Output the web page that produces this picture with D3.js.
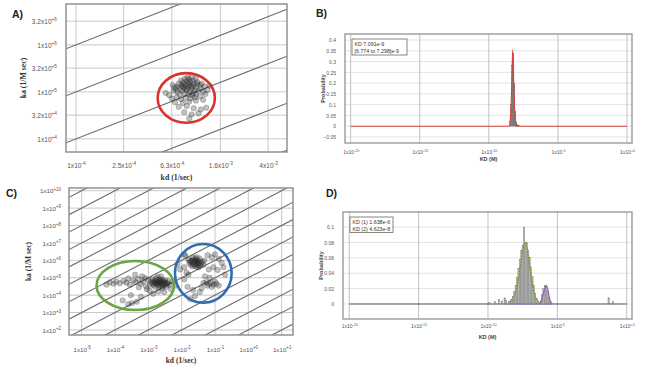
<!DOCTYPE html>
<html><head><meta charset="utf-8">
<script src="https://cdn.jsdelivr.net/npm/d3@7"></script>
<style>body{margin:0;background:#fff}svg{display:block}</style>
</head><body><svg id="c" width="650" height="369"></svg>
<script>
// ---------- Panel A data ----------
const aKdTicks=[1e-4,2.5e-4,6.3e-4,1.6e-3,4e-3];
const aKdMant=["1","2.5","6.3","1.6","4"];
const aKdExp=["-4","-4","-4","-3","-3"];
const aKaTicks=[3.2e6,1e6,3.2e5,1e5,3.2e4,1e4];
const aKaMant=["3.2","1","3.2","1","3.2","1"];
const aKaExp=["+6","+6","+5","+5","+4","+4"];
const aIsoKD=[1e-6,1e-7,1e-8,1e-9,1e-10,1e-11];
const aEllipseBox=[4.8e-4,1.44e-3,2.2e4,2.5e5];
const aPoints=[[7.2e-4,1.5e5],[7.8e-4,1.6e5],[8.4e-4,1.7e5],[9.0e-4,1.6e5],[9.6e-4,1.5e5],[1.02e-3,1.45e5],[1.08e-3,1.4e5],
[7.0e-4,1.3e5],[7.6e-4,1.35e5],[8.2e-4,1.4e5],[8.8e-4,1.42e5],[9.4e-4,1.3e5],[1.0e-3,1.25e5],[1.1e-3,1.2e5],
[6.8e-4,1.15e5],[7.4e-4,1.2e5],[8.0e-4,1.22e5],[8.6e-4,1.25e5],[9.2e-4,1.18e5],[9.8e-4,1.1e5],[1.05e-3,1.05e5],
[7.0e-4,1.0e5],[7.7e-4,1.05e5],[8.3e-4,1.08e5],[8.9e-4,1.0e5],[9.5e-4,9.5e4],[1.15e-3,1.0e5],
[7.3e-4,9.0e4],[8.0e-4,9.2e4],[8.7e-4,8.8e4],[9.3e-4,8.5e4],[1.0e-3,8.8e4],
[6.6e-4,1.25e5],[7.5e-4,1.75e5],[8.1e-4,1.9e5],[8.8e-4,1.85e5],[9.5e-4,1.75e5],[1.03e-3,1.6e5],[1.12e-3,1.5e5],[1.18e-3,1.3e5],
[6.4e-4,1.4e5],[6.5e-4,1.05e5],[8.5e-4,2.0e5],[9.2e-4,2.05e5],[1.0e-3,1.9e5],[7.9e-4,1.48e5],[8.6e-4,1.55e5],[9.1e-4,1.33e5],[8.4e-4,1.15e5],[7.8e-4,1.28e5],
[6.0e-4,8.5e4],[6.3e-4,7.2e4],[6.9e-4,7.8e4],[7.5e-4,7.0e4],[8.2e-4,7.5e4],[9.0e-4,7.2e4],[9.8e-4,7.6e4],[1.08e-3,8.0e4],[1.2e-3,9.0e4],[1.25e-3,1.1e5],
[6.7e-4,6.0e4],[7.8e-4,5.8e4],[8.8e-4,6.2e4],[1.0e-3,6.5e4],[1.15e-3,6.8e4],
[7.2e-4,4.8e4],[8.4e-4,5.0e4],[9.6e-4,4.5e4],[1.1e-3,4.2e4],[1.22e-3,4.6e4],
[8.0e-4,3.7e4],[9.2e-4,3.3e4],[8.8e-4,2.7e4],[1.05e-3,3.5e4],[5.6e-4,9.5e4],[1.3e-3,1.35e5]];

// ---------- Panel B data ----------
const bKdTicks=[1e-20,1e-15,1e-10,1e-5,1];
const bKdMant=["1","1","1","1","1"];
const bKdExp=["-20","-15","-10","-5","+0"];
const bProbTicks=[0.4,0.35,0.3,0.25,0.2,0.15,0.1,0.05,0,-0.05];
const bLegend=["KD 7.091e-9","[6.774 to 7.298]e-9"];
const bCurveKd=[1e-20,3.0e-9,3.6e-9,4.2e-9,4.8e-9,5.3e-9,5.8e-9,6.5e-9,7.5e-9,9e-9,1.1e-8,1];
const bCurveP=[0,0,0.03,0.12,0.26,0.355,0.3,0.17,0.06,0.01,0,0];
const bHistKd=[3.5e-9,4.1e-9,4.9e-9,5.8e-9,6.9e-9,8.2e-9,9.7e-9,1.15e-8,1.4e-8];
const bHistP=[0.02,0.1,0.28,0.34,0.2,0.07,0.02,0.008,0.004];

// ---------- Panel C data ----------
const cKdTicks=[1e-5,1e-4,1e-3,1e-2,1e-1,1,10];
const cKdExp=["-5","-4","-3","-2","-1","+0","+1"];
const cKaTicks=[1e10,1e9,1e8,1e7,1e6,1e5,1e4,1e3,1e2];
const cKaExp=["+10","+9","+8","+7","+6","+5","+4","+3","+2"];
const cIsoKD=[1e-16,1e-15,1e-14,1e-13,1e-12,1e-11,1e-10,1e-9,1e-8,1e-7,1e-6,1e-5,1e-4,1e-3,1e-2,1e-1,1];
const cGreenBox=[2.8e-5,5.9e-3,1.4e3,9.1e5];
const cBlueBox=[6.3e-3,0.316,3.7e3,8.7e6];
const cGreenPoints=[[1.2e-3,6e4],[1.5e-3,6.5e4],[1.8e-3,7e4],[2.1e-3,6.2e4],[2.5e-3,5.5e4],[2.9e-3,6e4],[3.3e-3,5e4],
[1.3e-3,4.8e4],[1.6e-3,5.2e4],[1.9e-3,5.5e4],[2.2e-3,4.8e4],[2.6e-3,4.2e4],[3.0e-3,4.5e4],[3.6e-3,4e4],
[1.1e-3,4e4],[1.4e-3,3.8e4],[1.7e-3,4.2e4],[2.0e-3,3.8e4],[2.4e-3,3.4e4],[2.8e-3,3.2e4],[3.4e-3,3.0e4],
[1.0e-3,7.5e4],[1.3e-3,8e4],[1.7e-3,9e4],[2.2e-3,8.5e4],[2.7e-3,7.5e4],[3.2e-3,7e4],[4.0e-3,6.5e4],
[1.6e-3,3e4],[2.1e-3,2.8e4],[2.6e-3,2.5e4],[1.9e-3,1.1e5],[2.4e-3,1.2e5],[3.8e-3,5e4],[4.3e-3,4e4],
[1.5e-3,5.8e4],[1.8e-3,4.6e4],[2.3e-3,6.8e4],[2.0e-3,5.2e4],[2.7e-3,5.6e4],
[5.5e-5,4e4],[7e-5,5.5e4],[9e-5,4.5e4],[1.1e-4,6e4],[1.4e-4,4.8e4],[1.8e-4,6.5e4],[2.2e-4,5.2e4],[2.8e-4,4e4],[3.5e-4,7e4],[4.2e-4,5.5e4],[5e-4,8.5e4],[6e-4,4.5e4],[7e-4,6e4],[8e-4,9.5e4],[6.5e-4,1.2e5],[4e-4,1.5e5],[2.5e-4,9e4],[8.5e-4,3.2e4],
[1.7e-4,5e3],[2.5e-4,3e3],[3.2e-4,3.5e3],[4.5e-4,4.2e3],[3e-4,1e4],[6e-4,8e3],[5.2e-4,2.8e4],[1.1e-3,1.8e4],[1.4e-3,1.2e4],[9e-4,2.2e4],[2e-3,1.6e4],[3e-3,1.5e4],[4.8e-3,2.2e4],
[5.5e-3,6e4],[6.5e-3,3.5e4]];
const cBluePoints=[[1.8e-2,9e5],[2.2e-2,1.1e6],[2.6e-2,1.2e6],[3.0e-2,1.0e6],[3.5e-2,9e5],[4.2e-2,8e5],
[1.7e-2,7e5],[2.0e-2,7.5e5],[2.4e-2,8.5e5],[2.8e-2,7.8e5],[3.2e-2,7e5],[3.8e-2,6.5e5],
[1.9e-2,5.5e5],[2.3e-2,6e5],[2.7e-2,6.2e5],[3.1e-2,5.5e5],[3.6e-2,5e5],[4.5e-2,5.5e5],
[2.1e-2,4.5e5],[2.5e-2,4.8e5],[2.9e-2,4.2e5],[3.3e-2,4e5],[2.2e-2,1.4e6],[2.8e-2,1.5e6],[3.4e-2,1.3e6],[1.6e-2,1.1e6],[4.8e-2,1e6],[2.6e-2,9.5e5],[2.0e-2,9.5e5],[3.0e-2,8.2e5],
[1.2e-2,2.2e6],[1.3e-2,1.8e6],[7.5e-3,6e5],[9e-3,3e5],[1.2e-2,4e5],[1.4e-2,2e5],[6e-2,2e6],[8e-2,1.5e6],[1.0e-1,2.2e6],[1.3e-1,1.2e6],[1.6e-1,7e5],[9e-2,4e5],[6.5e-2,3e5],[1.2e-1,2.8e5],
[4.5e-2,5e4],[5.5e-2,5.5e4],[6.5e-2,4.5e4],[7.5e-2,5e4],[9e-2,4e4],[1.1e-1,4.5e4],[1.3e-1,3.5e4],[8e-2,3e4],[6e-2,3.5e4],[1e-1,6e4],
[1.8e-2,6e3],[2.5e-2,9e3],[3.5e-2,1.5e4],[4e-2,2.5e4],[2.2e-2,2e4],[1.5e-2,3e4],[1.2e-2,8e4],[1.6e-2,1.5e5],[5e-2,1.2e5],[7e-2,1e5],[2e-1,1.5e5],[1.8e-1,4e5]];

// ---------- Panel D data ----------
const dKdTicks=[1e-20,1e-15,1e-10,1e-5,1];
const dKdMant=["1","1","1","1","1"];
const dKdExp=["-20","-15","-10","-5","+0"];
const dProbTicks=[0.1,0.08,0.06,0.04,0.02,0];
const dLegend=["KD (1) 1.638e-6","KD (2) 4.623e-8"];
const dHistKd=[1.26e-10,3.2e-10,6.3e-10,1e-9,1.6e-9,2e-9,3.2e-9,4e-9,5e-9,6.3e-9,7.9e-9,1e-8,1.26e-8,1.6e-8,2e-8,2.5e-8,3.2e-8,4e-8,5e-8,6.3e-8,7.9e-8,1e-7,1.26e-7,1.6e-7,2e-7,2.5e-7,3.2e-7,4e-7,6.3e-7,7.9e-7,1e-6,1.26e-6,1.6e-6,2e-6,2.5e-6,3.2e-6,0.05,0.1];
const dHistP=[0.002,0.003,0.006,0.004,0.008,0.005,0.003,0.004,0.006,0.01,0.016,0.024,0.034,0.046,0.058,0.07,0.076,0.1,0.079,0.08,0.07,0.06,0.048,0.036,0.024,0.014,0.007,0.003,0.004,0.012,0.02,0.024,0.023,0.016,0.008,0.003,0.008,0.003];
const dFit2Kd=[2.5e-9,4e-9,6.3e-9,1e-8,1.6e-8,2.5e-8,3.5e-8,4.6e-8,6e-8,8e-8,1.2e-7,1.8e-7,2.8e-7,4.5e-7,7e-7];
const dFit2P=[0,0.002,0.006,0.016,0.034,0.056,0.072,0.08,0.076,0.062,0.04,0.02,0.008,0.002,0];
const dFit1Kd=[5e-7,7e-7,9e-7,1.15e-6,1.4e-6,1.64e-6,2e-6,2.5e-6,3.2e-6,4.2e-6];
const dFit1P=[0,0.004,0.011,0.018,0.023,0.024,0.02,0.011,0.003,0];

// ---------- drawing ----------
const svg=d3.select("#c");
const SANS="'Liberation Sans', Arial, sans-serif";
const SERIF="'Liberation Serif', 'Times New Roman', serif";

function sup(sel,mant,exp){
  sel.text(null);
  sel.append("tspan").text(mant+"x10");
  sel.append("tspan").attr("dy","-0.6em").attr("font-size","0.72em").text(exp);
}

function scatter(o){
  const g=svg.append("g");
  const x=d3.scaleLog().domain(o.xDom).range([o.L,o.R]);
  const y=d3.scaleLog().domain(o.yDom).range([o.B,o.T]);
  svg.append("clipPath").attr("id",o.id).append("rect")
    .attr("x",o.L).attr("y",o.T).attr("width",o.R-o.L).attr("height",o.B-o.T);
  g.append("g").selectAll("line").data(o.xTicks).join("line")
    .attr("x1",d=>x(d)).attr("x2",d=>x(d)).attr("y1",o.T).attr("y2",o.B)
    .attr("stroke","#c8c8c8").attr("stroke-width",1);
  g.append("g").selectAll("line").data(o.yTicks).join("line")
    .attr("y1",d=>y(d)).attr("y2",d=>y(d)).attr("x1",o.L).attr("x2",o.R)
    .attr("stroke","#c8c8c8").attr("stroke-width",1);
  const line=d3.line().x(d=>x(d[0])).y(d=>y(d[1]));
  g.append("g").attr("clip-path",`url(#${o.id})`).selectAll("path").data(o.iso).join("path")
    .attr("d",K=>line([[o.xDom[0],o.xDom[0]/K],[o.xDom[1],o.xDom[1]/K]]))
    .attr("stroke","#6b6b6b").attr("stroke-width",1.1).attr("fill","none");
  o.points.forEach(p=>{
    g.append("g").selectAll("circle").data(p).join("circle")
      .attr("cx",d=>x(d[0])).attr("cy",d=>y(d[1])).attr("r",2.7)
      .attr("fill","#222").attr("fill-opacity",0.28)
      .attr("stroke","#333").attr("stroke-opacity",0.5).attr("stroke-width",0.5);
  });
  o.ellipses.forEach(e=>{
    const x0=x(e.box[0]),x1=x(e.box[1]),y0=y(e.box[2]),y1=y(e.box[3]);
    g.append("ellipse").attr("cx",(x0+x1)/2).attr("cy",(y0+y1)/2)
      .attr("rx",Math.abs(x1-x0)/2).attr("ry",Math.abs(y1-y0)/2)
      .attr("fill","none").attr("stroke",e.color).attr("stroke-width",2.6);
  });
  g.append("rect").attr("x",o.L).attr("y",o.T).attr("width",o.R-o.L).attr("height",o.B-o.T)
    .attr("fill","none").attr("stroke","#8a8a8a").attr("stroke-width",1.4);
  const ax=g.append("g").attr("transform",`translate(0,${o.B})`)
    .call(d3.axisBottom(x).tickValues(o.xTicks).tickSize(0).tickFormat(()=>""));
  ax.select(".domain").remove();
  ax.selectAll(".tick text").attr("y",o.xLabDy).attr("dy",0)
    .attr("font-family",SANS).attr("font-size",o.fs).attr("fill","#555")
    .each(function(d,i){sup(d3.select(this),o.xMant[i],o.xExp[i]);});
  const ay=g.append("g").attr("transform",`translate(${o.L},0)`)
    .call(d3.axisLeft(y).tickValues(o.yTicks).tickSize(0).tickFormat(()=>""));
  ay.select(".domain").remove();
  ay.selectAll(".tick text").attr("x",-o.yLabDx).attr("dy","0.35em")
    .attr("font-family",SANS).attr("font-size",o.fs).attr("fill","#555")
    .each(function(d,i){sup(d3.select(this),o.yMant[i],o.yExp[i]);});
  g.append("text").attr("x",(o.L+o.R)/2).attr("y",o.xTitleY).attr("text-anchor","middle")
    .attr("font-family",SERIF).attr("font-weight","bold").attr("font-size",o.tfs).attr("fill","#333")
    .text("kd (1/sec)");
  g.append("text").attr("transform",`translate(${o.yTitleX},${(o.T+o.B)/2}) rotate(-90)`)
    .attr("text-anchor","middle")
    .attr("font-family",SERIF).attr("font-weight","bold").attr("font-size",o.tfs).attr("fill","#333")
    .text("ka (1/M sec)");
  g.append("text").attr("x",o.labX).attr("y",o.labY).attr("font-family",SANS)
    .attr("font-weight","bold").attr("font-size",10.5).attr("fill","#222").text(o.label);
}

function prob(o){
  const g=svg.append("g");
  const x=d3.scaleLog().domain(o.xDom).range([o.L,o.R]);
  const y=d3.scaleLinear().domain(o.yDom).range([o.B,o.T]);
  g.append("g").selectAll("line").data(o.yTicks).join("line")
    .attr("y1",d=>y(d)).attr("y2",d=>y(d)).attr("x1",o.L).attr("x2",o.R)
    .attr("stroke","#dcdcdc").attr("stroke-width",0.8);
  g.append("g").selectAll("line").data(o.xTicks).join("line")
    .attr("x1",d=>x(d)).attr("x2",d=>x(d)).attr("y1",o.T).attr("y2",o.B)
    .attr("stroke","#b9b9c4").attr("stroke-width",0.9);
  o.draw(g,x,y);
  g.append("rect").attr("x",o.L).attr("y",o.T).attr("width",o.R-o.L).attr("height",o.B-o.T)
    .attr("fill","none").attr("stroke","#9a9a9a").attr("stroke-width",1.4);
  const ax=g.append("g").attr("transform",`translate(0,${o.B})`)
    .call(d3.axisBottom(x).tickValues(o.xTicks).tickSize(0).tickFormat(()=>""));
  ax.select(".domain").remove();
  ax.selectAll(".tick text").attr("y",o.xLabDy).attr("dy",0)
    .attr("font-family",SANS).attr("font-size",5).attr("fill","#555")
    .each(function(d,i){sup(d3.select(this),o.xMant[i],o.xExp[i]);});
  const ay=g.append("g").attr("transform",`translate(${o.L},0)`)
    .call(d3.axisLeft(y).tickValues(o.yTicks).tickSize(0).tickFormat(d3.format("")));
  ay.select(".domain").remove();
  ay.selectAll(".tick text").attr("x",-9).attr("dy","0.35em")
    .attr("font-family",SANS).attr("font-size",5).attr("fill","#555");
  g.append("text").attr("x",(o.L+o.R)/2).attr("y",o.xTitleY).attr("text-anchor","middle")
    .attr("font-family",SANS).attr("font-weight","bold").attr("font-size",5.5).attr("fill","#444")
    .text("KD (M)");
  g.append("text").attr("transform",`translate(${o.L-20},${(o.T+o.B)/2}) rotate(-90)`)
    .attr("text-anchor","middle").attr("font-family",SANS).attr("font-weight","bold")
    .attr("font-size",5.5).attr("fill","#444").text("Probability");
  const lg=g.append("g");
  lg.append("rect").attr("x",o.leg[0]).attr("y",o.leg[1]).attr("width",o.leg[2]).attr("height",o.leg[3])
    .attr("fill","#fff").attr("stroke","#666").attr("stroke-width",0.8);
  lg.selectAll("text").data(o.legend).join("text")
    .attr("x",o.leg[0]+2.5).attr("y",(d,i)=>o.leg[1]+6.5+i*7)
    .attr("font-family",SANS).attr("font-size",5.3).attr("fill","#333").text(d=>d);
  g.append("text").attr("x",o.labX).attr("y",o.labY).attr("font-family",SANS)
    .attr("font-weight","bold").attr("font-size",10.5).attr("fill","#222").text(o.label);
}

// Panel A
scatter({id:"clipA",L:66,R:287,T:4,B:152,xDom:[8.26e-5,5.75e-3],yDom:[5.25e3,7.41e6],
  xTicks:aKdTicks,xMant:aKdMant,xExp:aKdExp,yTicks:aKaTicks,yMant:aKaMant,yExp:aKaExp,
  iso:aIsoKD,points:[aPoints],ellipses:[{box:aEllipseBox,color:"#d8342b"}],
  fs:6.6,xLabDy:16,yLabDx:9,xTitleY:180,yTitleX:26,tfs:7.8,label:"A)",labX:12,labY:18});

// Panel C
scatter({id:"clipC",L:69,R:293,T:188,B:335,xDom:[4.17e-6,21.9],yDom:[51.3,1.43e10],
  xTicks:cKdTicks,xMant:cKdTicks.map(()=>"1"),xExp:cKdExp,yTicks:cKaTicks,yMant:cKaTicks.map(()=>"1"),yExp:cKaExp,
  iso:cIsoKD,points:[cGreenPoints,cBluePoints],
  ellipses:[{box:cGreenBox,color:"#6aa646"},{box:cBlueBox,color:"#2e6cb3"}],
  fs:6.2,xLabDy:17,yLabDx:8,xTitleY:363,yTitleX:31,tfs:7.5,label:"C)",labX:6,labY:197});

// Panel B
prob({L:345,R:632,T:34,B:143,xDom:[3.89e-21,2.29],yDom:[-0.078,0.428],
  xTicks:bKdTicks,xMant:bKdMant,xExp:bKdExp,yTicks:bProbTicks,xLabDy:11,xTitleY:161,
  leg:[352,39,55,16],legend:bLegend,label:"B)",labX:316,labY:17,
  draw:(g,x,y)=>{
    g.append("g").selectAll("rect").data(bHistKd).join("rect")
      .attr("x",d=>x(d)-0.55).attr("width",1.1)
      .attr("y",(d,i)=>y(bHistP[i])).attr("height",(d,i)=>y(0)-y(bHistP[i]))
      .attr("fill","#7a7a7a").attr("stroke","#555").attr("stroke-width",0.2);
    const ln=d3.line().x(d=>x(d[0])).y(d=>y(d[1])).curve(d3.curveMonotoneX);
    g.append("path").attr("d",ln(bCurveKd.map((k,i)=>[k,bCurveP[i]])))
      .attr("fill","none").attr("stroke","#d9413a").attr("stroke-width",1.1);
  }});

// Panel D
prob({L:343,R:632,T:212,B:319,xDom:[3.55e-21,2.4],yDom:[-0.0195,0.1195],
  xTicks:dKdTicks,xMant:dKdMant,xExp:dKdExp,yTicks:dProbTicks,xLabDy:9,xTitleY:339,
  leg:[350,217,43,15.5],legend:dLegend,label:"D)",labX:326,labY:197,
  draw:(g,x,y)=>{
    g.append("line").attr("x1",x(1e-20)).attr("x2",x(1)).attr("y1",y(0)).attr("y2",y(0))
      .attr("stroke","#555").attr("stroke-width",1);
    g.append("g").selectAll("rect").data(dHistKd).join("rect")
      .attr("x",d=>x(d)-0.7).attr("width",1.4)
      .attr("y",(d,i)=>y(dHistP[i])).attr("height",(d,i)=>y(0)-y(dHistP[i]))
      .attr("fill","#b3b3b3").attr("stroke","#777").attr("stroke-width",0.35);
    g.append("line").attr("x1",x(3e-9)).attr("x2",x(4.5e-6)).attr("y1",y(0)).attr("y2",y(0))
      .attr("stroke","#7d86d6").attr("stroke-width",1);
    const ln=d3.line().x(d=>x(d[0])).y(d=>y(d[1])).curve(d3.curveMonotoneX);
    g.append("path").attr("d",ln(dFit2Kd.map((k,i)=>[k,dFit2P[i]])))
      .attr("fill","none").attr("stroke","#9fb83a").attr("stroke-width",1.1);
    g.append("path").attr("d",ln(dFit2Kd.map((k,i)=>[k,dFit2P[i]])))
      .attr("fill","none").attr("stroke","#555").attr("stroke-width",0.6).attr("stroke-dasharray","1.5,1.5");
    g.append("path").attr("d",ln(dFit1Kd.map((k,i)=>[k,dFit1P[i]])))
      .attr("fill","none").attr("stroke","#8e5bb8").attr("stroke-width",1.1);
  }});
</script></body></html>
